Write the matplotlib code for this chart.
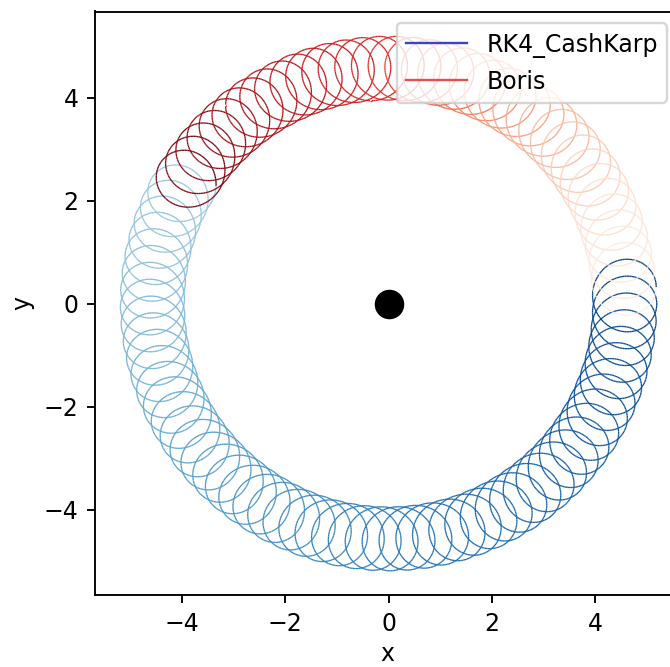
#!/usr/bin/env python3
# plot.py
# Gyro-orbit of a charged particle drifting around the origin,
# integrated with two different pushers (RK4 Cash-Karp and Boris)

import numpy as np
import matplotlib
matplotlib.use('Agg')
import matplotlib.pyplot as plt
from matplotlib.collections import LineCollection
from matplotlib.lines import Line2D


#############
# Orbit data
#############

methods = ['RK4_CashKarp', 'Boris']
cmaps = ['Blues', 'Reds']
legend_colors = ['#3b44c6', '#e2504f']

# guiding-centre angle at start / end of each run (degrees, clockwise drift)
start_angle = [4.0, 150.0]
end_angle = [-210.0, 4.0]
n_gyrations = [52, 36]

# colour along each run: fraction of the run -> colormap value
rk4_color_pos = [0.0, 0.45, 0.85, 1.0]
rk4_color_val = [0.93, 0.72, 0.45, 0.38]
boris_color_pos = [0.0, 0.42, 0.6, 0.83, 1.0]
boris_color_val = [0.98, 0.68, 0.38, 0.15, 0.05]
color_pos = [rk4_color_pos, boris_color_pos]
color_val = [rk4_color_val, boris_color_val]

drift_radius = 4.57
gyro_radius = 0.62


##############
# Create Graph
##############

dpi = 170
fig = plt.figure(figsize=(670 / dpi, 667 / dpi), dpi=dpi)
ax = fig.add_axes([95 / 670, 1 - 595 / 667, 584 / 670, 583.5 / 667])

for i in range(len(methods)):
    pts_per_loop = 120
    n = n_gyrations[i] * pts_per_loop
    t = np.linspace(0, 1, n)
    phi = np.radians(start_angle[i] + (end_angle[i] - start_angle[i]) * t)
    theta = 2 * np.pi * n_gyrations[i] * t
    x = drift_radius * np.cos(phi) + gyro_radius * np.cos(theta)
    y = drift_radius * np.sin(phi) + gyro_radius * np.sin(theta)

    segs = np.stack([np.column_stack([x[:-1], y[:-1]]),
                     np.column_stack([x[1:], y[1:]])], axis=1)
    cvals = np.interp(t[:-1], color_pos[i], color_val[i])
    lc = LineCollection(segs, cmap=cmaps[i], linewidths=0.55)
    lc.set_array(cvals)
    lc.set_clim(0, 1)
    ax.add_collection(lc)

# central object
ax.plot([0], [0], 'o', color='black', markersize=11.5)

handles = [Line2D([], [], color=c, lw=1) for c in legend_colors]
ax.legend(handles, methods, loc='upper right', fontsize=10, handlelength=2.6)

ax.set_xlim(-5.68, 5.62)
ax.set_ylim(-5.66, 5.67)
ax.set_xticks([-4, -2, 0, 2, 4])
ax.set_yticks([-4, -2, 0, 2, 4])
ax.tick_params(labelsize=10)
ax.set_xlabel('x', fontsize=10, labelpad=2.6)
ax.set_ylabel('y', fontsize=10)

fig.savefig('out.png', dpi=dpi)
